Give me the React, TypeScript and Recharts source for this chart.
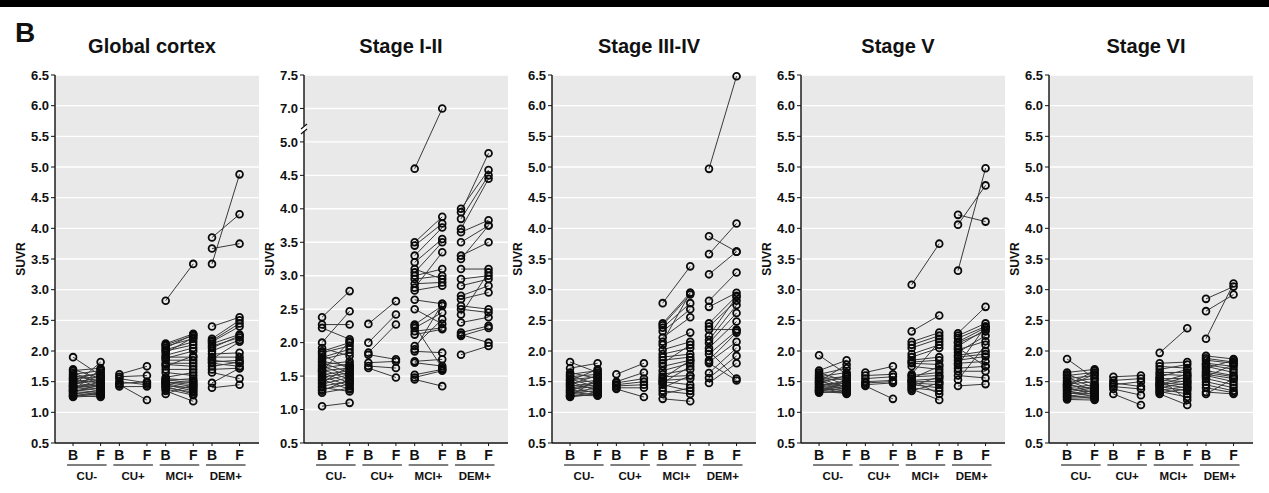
import React from "react";
import { ComposedChart, Line, XAxis, YAxis, CartesianGrid } from "recharts";

// x layout: B and F of each group sit inside a slot 2 units wide
const groups = ["CU-", "CU+", "MCI+", "DEM+"];
const bOffset = 0.78;
const fOffset = 1.97;
const xMax = 8.81;

const normalTicks = [0.5, 1, 1.5, 2, 2.5, 3, 3.5, 4, 4.5, 5, 5.5, 6, 6.5];
// Stage I-II has a broken axis: 5.0 is followed by 7.0 and 7.5
const brokenTicks = [0.5, 1, 1.5, 2, 2.5, 3, 3.5, 4, 4.5, 5, 7, 7.5];

const titles = ["Global cortex", "Stage I-II", "Stage III-IV", "Stage V", "Stage VI"];

// [baseline, follow-up] SUVR pairs
const globalCUneg = [[1.90,1.60],[1.70,1.55],[1.68,1.72],[1.65,1.45],[1.62,1.68],[1.60,1.50],[1.58,1.62],[1.56,1.40],[1.55,1.58],[1.53,1.65],[1.52,1.48],[1.50,1.55],[1.48,1.42],[1.47,1.52],[1.45,1.60],[1.44,1.38],[1.42,1.47],[1.41,1.35],[1.40,1.44],[1.38,1.50],[1.37,1.32],[1.35,1.40],[1.34,1.30],[1.33,1.45],[1.31,1.28],[1.30,1.36],[1.28,1.25],[1.27,1.33],[1.26,1.30],[1.25,1.27],[1.43,1.82],[1.36,1.70]];
const globalCUpos = [[1.62,1.75],[1.58,1.60],[1.55,1.48],[1.50,1.45],[1.47,1.50],[1.45,1.20],[1.42,1.42]];
const globalMCI = [[2.82,3.42],[2.12,2.28],[2.10,2.25],[2.08,2.20],[2.05,2.27],[2.02,2.15],[2.00,2.10],[1.97,2.22],[1.93,2.05],[1.90,1.90],[1.88,2.00],[1.85,1.85],[1.80,1.80],[1.78,1.75],[1.75,1.92],[1.70,1.70],[1.65,1.60],[1.57,1.65],[1.55,1.52],[1.53,1.48],[1.52,1.55],[1.50,1.45],[1.49,1.42],[1.48,1.50],[1.47,1.38],[1.45,1.35],[1.43,1.40],[1.42,1.30],[1.40,1.33],[1.38,1.28],[1.35,1.18],[1.30,1.45]];
const globalDEM = [[3.42,4.88],[3.85,4.23],[3.67,3.75],[2.40,2.55],[2.20,2.50],[2.17,2.45],[2.15,2.40],[2.12,2.27],[2.08,2.22],[2.05,2.25],[2.00,2.18],[1.95,1.97],[1.90,1.90],[1.87,2.15],[1.85,1.80],[1.82,1.85],[1.80,1.75],[1.75,1.82],[1.70,1.72],[1.65,1.55],[1.48,1.72],[1.40,1.45]];

const stage12CUneg = [[2.38,2.77],[2.27,2.27],[2.22,2.05],[2.00,2.47],[1.87,2.00],[1.85,1.95],[1.82,1.60],[1.78,1.90],[1.75,1.85],[1.72,1.65],[1.70,1.55],[1.67,1.72],[1.65,1.50],[1.62,1.68],[1.60,1.45],[1.58,1.62],[1.55,1.40],[1.52,1.58],[1.50,1.35],[1.48,1.55],[1.45,1.30],[1.43,1.52],[1.40,1.65],[1.38,1.48],[1.35,1.42],[1.33,1.27],[1.30,1.38],[1.28,1.45],[1.25,1.32],[1.05,1.10],[1.92,1.80],[1.57,2.02]];
const stage12CUpos = [[2.28,2.62],[2.00,2.42],[1.85,2.27],[1.82,1.75],[1.70,1.72],[1.65,1.62],[1.62,1.48]];
const stage12MCI = [[4.60,7.00],[3.50,3.88],[3.45,3.78],[3.30,3.72],[3.20,3.55],[3.05,3.50],[3.00,3.10],[2.95,3.00],[2.88,2.90],[2.82,3.35],[2.78,2.85],[2.64,2.58],[2.50,2.28],[2.27,2.55],[2.22,2.45],[2.17,2.22],[2.12,2.20],[1.95,2.35],[1.90,2.58],[1.87,1.85],[1.72,1.75],[1.70,1.65],[1.52,1.60],[1.48,1.58],[1.45,1.35],[3.10,2.95],[2.25,1.62]];
const stage12DEM = [[3.95,4.83],[4.00,4.58],[3.85,4.50],[3.70,4.45],[3.65,3.83],[3.50,3.75],[3.30,3.50],[3.25,3.75],[3.10,3.10],[2.95,3.00],[2.85,2.95],[2.70,2.85],[2.65,2.75],[2.55,2.50],[2.50,2.45],[2.42,3.05],[2.30,2.38],[2.15,2.25],[2.10,2.22],[2.12,2.00],[1.82,1.95]];

const stage34CUneg = [[1.82,1.65],[1.72,1.80],[1.65,1.55],[1.62,1.68],[1.60,1.45],[1.58,1.62],[1.55,1.40],[1.53,1.58],[1.50,1.35],[1.48,1.52],[1.46,1.60],[1.45,1.38],[1.43,1.48],[1.42,1.30],[1.40,1.45],[1.38,1.42],[1.36,1.33],[1.35,1.50],[1.33,1.28],[1.32,1.40],[1.30,1.36],[1.28,1.27],[1.27,1.32],[1.25,1.30],[1.26,1.55],[1.52,1.70]];
const stage34CUpos = [[1.62,1.80],[1.50,1.65],[1.48,1.55],[1.45,1.50],[1.43,1.45],[1.40,1.40],[1.38,1.25]];
const stage34MCI = [[2.78,3.38],[2.45,2.95],[2.42,2.92],[2.38,2.78],[2.32,2.68],[2.22,2.55],[2.15,2.95],[2.10,2.30],[2.02,2.15],[1.95,2.05],[1.90,1.95],[1.85,1.90],[1.80,2.10],[1.75,1.85],[1.68,1.80],[1.62,1.70],[1.58,1.60],[1.55,1.85],[1.52,1.55],[1.50,1.45],[1.48,1.75],[1.45,1.35],[1.40,1.60],[1.35,1.30],[1.30,1.40],[1.22,1.18]];
const stage34DEM = [[4.97,6.48],[3.87,3.62],[3.58,4.08],[3.25,3.62],[2.82,3.28],[2.72,2.95],[2.45,2.90],[2.40,2.82],[2.18,2.75],[2.13,2.62],[2.05,2.48],[1.95,2.33],[1.85,2.30],[1.82,2.15],[1.64,2.05],[1.56,1.92],[1.48,1.80],[2.35,2.35],[2.00,1.55],[1.80,1.52],[2.25,2.88]];

const stage5CUneg = [[1.93,1.62],[1.68,1.85],[1.65,1.50],[1.62,1.72],[1.60,1.45],[1.58,1.65],[1.56,1.40],[1.55,1.58],[1.53,1.35],[1.52,1.55],[1.50,1.42],[1.48,1.60],[1.47,1.38],[1.45,1.48],[1.44,1.33],[1.42,1.52],[1.41,1.30],[1.40,1.45],[1.38,1.36],[1.37,1.43],[1.36,1.32],[1.35,1.40],[1.34,1.31],[1.33,1.50],[1.32,1.34],[1.50,1.78]];
const stage5CUpos = [[1.65,1.75],[1.60,1.62],[1.55,1.58],[1.50,1.52],[1.48,1.50],[1.45,1.48],[1.43,1.22]];
const stage5MCI = [[3.08,3.75],[2.32,2.58],[2.15,2.30],[2.10,2.25],[2.05,2.20],[1.95,2.10],[1.90,2.05],[1.85,1.90],[1.82,1.85],[1.80,1.78],[1.75,1.70],[1.60,1.65],[1.58,1.60],[1.55,1.75],[1.52,1.55],[1.50,1.50],[1.48,1.45],[1.45,1.40],[1.43,1.58],[1.40,1.35],[1.38,1.20],[1.35,1.48],[1.52,1.30],[1.62,2.15]];
const stage5DEM = [[3.31,4.98],[4.06,4.70],[4.22,4.11],[2.29,2.72],[2.25,2.45],[2.21,2.40],[2.15,2.38],[2.13,2.32],[2.08,2.35],[2.02,2.16],[1.98,2.25],[1.93,2.00],[1.90,1.95],[1.85,1.91],[1.80,1.83],[1.77,2.40],[1.72,1.75],[1.67,1.67],[1.60,1.56],[1.53,2.10],[1.43,1.46],[2.05,1.75]];

const stage6CUneg = [[1.87,1.55],[1.65,1.70],[1.62,1.45],[1.60,1.65],[1.57,1.40],[1.55,1.60],[1.52,1.35],[1.50,1.55],[1.48,1.30],[1.46,1.50],[1.45,1.38],[1.43,1.62],[1.41,1.28],[1.40,1.45],[1.38,1.33],[1.36,1.42],[1.35,1.25],[1.33,1.40],[1.31,1.30],[1.30,1.36],[1.28,1.22],[1.26,1.32],[1.25,1.27],[1.23,1.24],[1.21,1.20],[1.44,1.68]];
const stage6CUpos = [[1.58,1.60],[1.52,1.55],[1.48,1.42],[1.45,1.50],[1.42,1.38],[1.38,1.28],[1.30,1.12]];
const stage6MCI = [[1.97,2.37],[1.80,1.82],[1.75,1.72],[1.70,1.78],[1.65,1.65],[1.62,1.60],[1.58,1.70],[1.55,1.55],[1.52,1.50],[1.50,1.62],[1.48,1.45],[1.46,1.40],[1.44,1.52],[1.42,1.35],[1.40,1.48],[1.38,1.30],[1.36,1.42],[1.34,1.25],[1.32,1.38],[1.30,1.12],[1.45,1.58],[1.55,1.20]];
const stage6DEM = [[2.20,3.10],[2.85,3.05],[2.65,2.92],[1.92,1.87],[1.88,1.82],[1.85,1.80],[1.80,1.75],[1.78,1.70],[1.75,1.65],[1.72,1.85],[1.68,1.60],[1.65,1.58],[1.62,1.55],[1.60,1.50],[1.58,1.78],[1.55,1.45],[1.50,1.40],[1.45,1.35],[1.40,1.32],[1.33,1.30],[1.30,1.55]];

const panelData = [
  [globalCUneg, globalCUpos, globalMCI, globalDEM],
  [stage12CUneg, stage12CUpos, stage12MCI, stage12DEM],
  [stage34CUneg, stage34CUpos, stage34MCI, stage34DEM],
  [stage5CUneg, stage5CUpos, stage5MCI, stage5DEM],
  [stage6CUneg, stage6CUpos, stage6MCI, stage6DEM],
];

const axisLefts = [55, 304, 552, 801, 1049];
const PLOT_W = 204;
const Y_AXIS_W = 44;
const TOP = 75;
const BOTTOM = 443;
const FONT = "'Liberation Sans', Arial, Helvetica, sans-serif";

// compress the gap 5.0 -> 7.0 into one tick step
const squash = (v: number, broken: boolean) => (broken && v > 5 ? v - 1.5 : v);
const unsquash = (v: number, broken: boolean) => (broken && v > 5 ? v + 1.5 : v);

const xTicks = groups.flatMap((_, g) => [2 * g + bOffset, 2 * g + fOffset]);

function buildRows(sets: number[][][], broken: boolean) {
  const rows: { x: number; y: number | null }[] = [];
  sets.forEach((pairs, g) => {
    pairs.forEach(([b, f]) => {
      rows.push({ x: 2 * g + bOffset, y: squash(b, broken) });
      rows.push({ x: 2 * g + fOffset, y: squash(f, broken) });
      rows.push({ x: 2 * g + fOffset, y: null });
    });
  });
  return rows;
}

const GroupTick = (props: any) => {
  const { x, y, payload } = props;
  const v = payload.value as number;
  const g = Math.floor(v / 2);
  const isB = v - 2 * g < 1.4;
  const unit = PLOT_W / xMax;
  const span = (fOffset - bOffset) * unit;
  return (
    <g>
      <text x={x} y={y + 11.5} textAnchor="middle" fontSize={14} fontWeight={700} fill="#111" fontFamily={FONT}>
        {isB ? "B" : "F"}
      </text>
      {isB && (
        <>
          <line x1={x - 6} x2={x + span + 6} y1={y + 17} y2={y + 17} stroke="#555" strokeWidth={1.6} />
          <text x={x + span / 2} y={y + 32} textAnchor="middle" fontSize={11.5} fontWeight={700} fill="#111" fontFamily={FONT}>
            {groups[g]}
          </text>
        </>
      )}
    </g>
  );
};

const Dot = (p: any) => {
  if (p.cy == null || p.value == null) return <g key={`n${p.index}`} />;
  return <circle key={`d${p.index}`} cx={p.cx} cy={p.cy} r={3.4} fill="none" stroke="#0a0a0a" strokeWidth={1.8} />;
};

function Panel({ index }: { index: number }) {
  const broken = index === 1;
  const ticks = broken ? brokenTicks.map((t) => squash(t, true)) : normalTicks;
  const rows = buildRows(panelData[index], broken);
  const left = axisLefts[index] - Y_AXIS_W;
  return (
    <div style={{ position: "absolute", left, top: 0 }}>
      <ComposedChart
        width={Y_AXIS_W + PLOT_W + 2}
        height={493}
        data={rows}
        margin={{ top: TOP, right: 2, bottom: 0, left: 0 }}
      >
        <CartesianGrid vertical={false} stroke="#ffffff" strokeWidth={1.4} fill="#e9e9e9" />
        <XAxis
          dataKey="x"
          type="number"
          domain={[0, xMax]}
          ticks={xTicks}
          interval={0}
          height={493 - BOTTOM}
          tickSize={3}
          axisLine={{ stroke: "#111", strokeWidth: 1.4 }}
          tickLine={{ stroke: "#111" }}
          tick={(p: any) => <GroupTick {...p} />}
        />
        <YAxis
          type="number"
          domain={[0.5, broken ? 6 : 6.5]}
          ticks={ticks}
          interval={0}
          width={Y_AXIS_W}
          tickSize={4}
          axisLine={{ stroke: "#111", strokeWidth: 1.4 }}
          tickLine={{ stroke: "#111" }}
          tick={{ fontSize: 13, fontWeight: 700, fill: "#111", fontFamily: FONT }}
          tickFormatter={(v: number) => unsquash(v, broken).toFixed(1)}
        />
        <Line
          type="linear"
          dataKey="y"
          stroke="#3a3a3a"
          strokeWidth={1}
          connectNulls={false}
          dot={Dot}
          activeDot={false}
          isAnimationActive={false}
        />
      </ComposedChart>
    </div>
  );
}

export default function App() {
  return (
    <div style={{ position: "absolute", left: 0, top: 0, width: 1269, height: 493, background: "#fff", overflow: "hidden" }}>
      {titles.map((_, i) => (
        <Panel key={i} index={i} />
      ))}
      <svg width={1269} height={493} style={{ position: "absolute", left: 0, top: 0, pointerEvents: "none" }}>
        <rect x={0} y={0} width={1269} height={7} fill="#000" />
        <text x={15} y={42} fontSize={28} fontWeight={700} fontFamily={FONT} fill="#111">B</text>
        {titles.map((t, i) => (
          <text key={t} x={axisLefts[i] + PLOT_W / 2 - 5} y={53} textAnchor="middle" fontSize={20} fontWeight={700} fontFamily={FONT} fill="#111">
            {t}
          </text>
        ))}
        {axisLefts.map((ax, i) => (
          <text
            key={i}
            x={ax - 34}
            y={(TOP + BOTTOM) / 2}
            transform={`rotate(-90 ${ax - 34} ${(TOP + BOTTOM) / 2})`}
            textAnchor="middle"
            dominantBaseline="central"
            fontSize={12}
            fontWeight={700}
            fontFamily={FONT}
            fill="#111"
          >
            SUVR
          </text>
        ))}
        {/* axis break marks on Stage I-II */}
        <rect x={axisLefts[1] - 2} y={126} width={4} height={5} fill="#fff" />
        <line x1={axisLefts[1] - 3} y1={129} x2={axisLefts[1] + 3} y2={124} stroke="#111" strokeWidth={1.2} />
        <line x1={axisLefts[1] - 3} y1={134} x2={axisLefts[1] + 3} y2={129} stroke="#111" strokeWidth={1.2} />
      </svg>
    </div>
  );
}
